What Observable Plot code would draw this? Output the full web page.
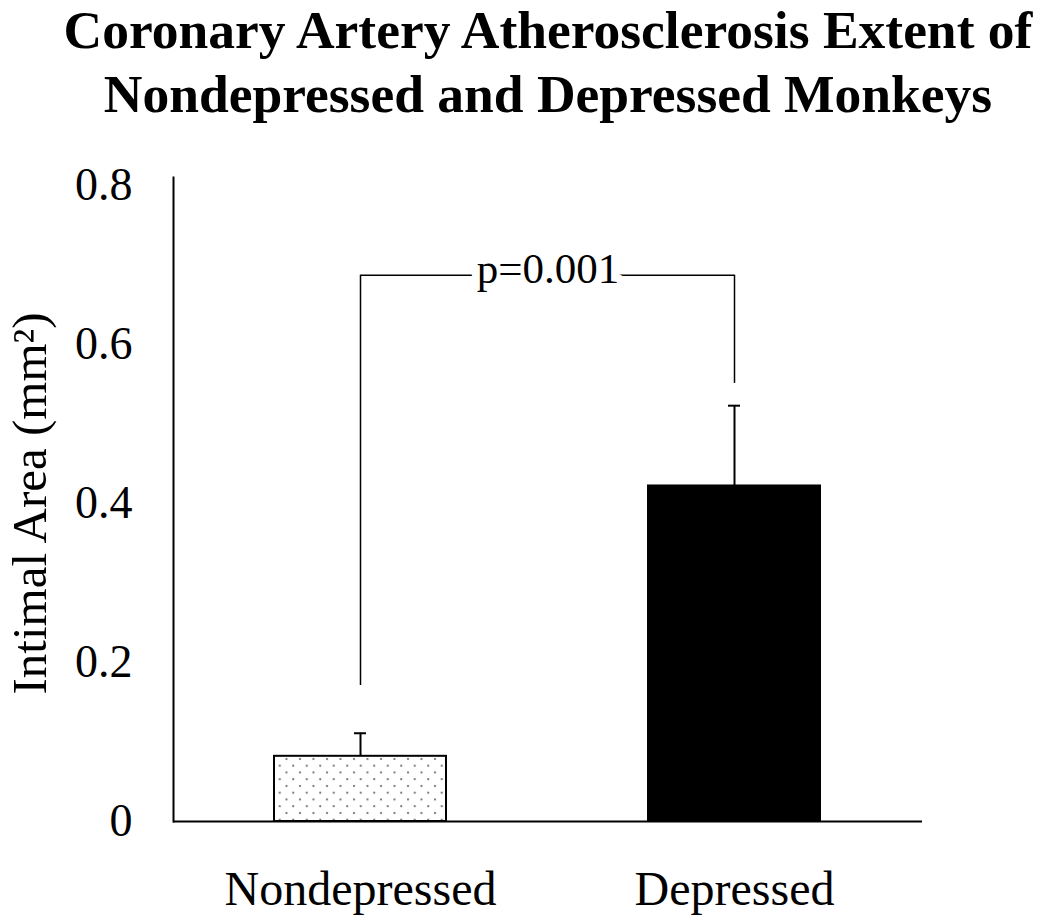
<!DOCTYPE html>
<html><head><meta charset="utf-8">
<script src="https://cdn.jsdelivr.net/npm/d3@7"></script>
<script src="https://cdn.jsdelivr.net/npm/@observablehq/plot@0.6"></script>
<style>body{margin:0;background:#fff}</style>
</head><body><div id="chart"></div>
<script>
const titleLines = ["Coronary Artery Atherosclerosis Extent of", "Nondepressed and Depressed Monkeys"];
const groups = ["Nondepressed", "Depressed"];
const means = [0.082, 0.422];
const errors = [0.029, 0.101];
const fills = ["url(#dots)", "black"];
const yTicks = [0, 0.2, 0.4, 0.6, 0.8];
const yTickLabels = ["0", "0.2", "0.4", "0.6", "0.8"];
const yLabel = "Intimal Area (mm²)";
const pText = "p=0.001";
const bracketLevel = 0.687;
const bracketBottoms = [0.171, 0.551];

const bars = groups.map((g, i) => ({group: g, mean: means[i], top: means[i] + errors[i], fill: fills[i]}));
const legs = groups.map((g, i) => ({group: g, y1: bracketBottoms[i], y2: bracketLevel}));
const bridge = [{from: groups[0], to: groups[1], level: bracketLevel, label: pText}];

const plot = Plot.plot({
  width: 1050, height: 919,
  marginLeft: 173, marginRight: 128, marginTop: 177, marginBottom: 98,
  style: {fontFamily: "'Liberation Serif', 'Times New Roman', serif", fontSize: "46px", color: "black", background: "white"},
  x: {domain: groups, paddingInner: 0.54, paddingOuter: 0.27, label: null},
  y: {domain: [0, 0.81], label: null},
  color: {type: "identity"},
  marks: [
    Plot.axisX({tickSize: 0, tickPadding: 49, label: null, fontSize: 48}),
    Plot.axisY({ticks: yTicks, tickFormat: d => yTickLabels[yTicks.indexOf(d)], tickSize: 0, tickPadding: 41, label: null, fontSize: 46}),
    Plot.frame({anchor: "left", stroke: "black", strokeWidth: 2}),
    Plot.ruleX(bars, {x: "group", y1: "mean", y2: "top", stroke: "black", strokeWidth: 2}),
    Plot.tickY(bars, {x: "group", y: "top", stroke: "black", strokeWidth: 2, insetLeft: 80, insetRight: 80}),
    Plot.barY(bars, {x: "group", y: "mean", fill: "fill", stroke: "black", strokeWidth: 2}),
    Plot.ruleY([0], {stroke: "black", strokeWidth: 2}),
    Plot.ruleX(legs, {x: "group", y1: "y1", y2: "y2", stroke: "black", strokeWidth: 1.5}),
    Plot.link(bridge, {x1: "from", x2: "to", y1: "level", y2: "level", stroke: "black", strokeWidth: 1.5}),
    Plot.text(bridge, {y: "level", text: "label", frameAnchor: "middle", fontSize: 43, fill: "black", stroke: "white", strokeWidth: 16, dy: -6}),
    Plot.text([yLabel], {text: d => d, frameAnchor: "left", textAnchor: "middle", rotate: -90, dx: -143, dy: 4, fontSize: 49, fill: "black"}),
    Plot.text([titleLines.join("\n")], {text: d => d, frameAnchor: "top", lineAnchor: "top", dy: -175, fontSize: 53.5, fontWeight: "bold", lineHeight: 1.2, fill: "black"})
  ]
});

const ns = "http://www.w3.org/2000/svg";
const defs = document.createElementNS(ns, "defs");
const pat = document.createElementNS(ns, "pattern");
pat.setAttribute("id", "dots");
pat.setAttribute("patternUnits", "userSpaceOnUse");
pat.setAttribute("width", "13.5");
pat.setAttribute("height", "13.5");
const bg = document.createElementNS(ns, "rect");
bg.setAttribute("width", "13.5"); bg.setAttribute("height", "13.5"); bg.setAttribute("fill", "white");
pat.appendChild(bg);
for (const [cx, cy] of [[3, 3], [9.75, 9.75]]) {
  const c = document.createElementNS(ns, "circle");
  c.setAttribute("cx", cx); c.setAttribute("cy", cy); c.setAttribute("r", "1.1"); c.setAttribute("fill", "#666");
  pat.appendChild(c);
}
defs.appendChild(pat);
plot.insertBefore(defs, plot.firstChild);
document.getElementById("chart").appendChild(plot);
</script>
</body></html>
